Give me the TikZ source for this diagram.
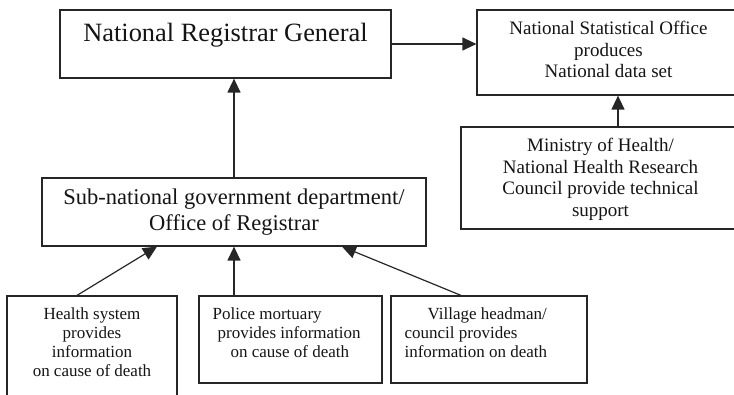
\documentclass[tikz,border=0pt]{standalone}
\usepackage{fontspec}
\setmainfont{Liberation Serif}
\usetikzlibrary{arrows.meta}
\begin{document}
\begin{tikzpicture}[x=1pt,y=-1pt,
  box/.style={draw=black!85, line width=1.2pt, inner sep=0pt, rectangle},
  txt/.style={inner sep=0pt, text=black!92},
  arr/.style={draw=black!85, line width=1.2pt, -{Triangle[length=14pt,width=13pt]}},
  fA/.style={font=\fontsize{26.4}{31}\selectfont},
  fB/.style={font=\fontsize{22.5}{26.5}\selectfont},
  fC/.style={font=\fontsize{19}{21.4}\selectfont},
  fD/.style={font=\fontsize{17}{19}\selectfont}
]
\useasboundingbox (0,0) rectangle (734,395);
\clip (0,0) rectangle (734,395);

% boxes
\node[box, minimum width=331pt, minimum height=68pt] (nrg) at (225.5,44) {};
\node[box, minimum width=263pt, minimum height=85pt] (nso) at (608.5,52.5) {};
\node[box, minimum width=279pt, minimum height=102pt] (min) at (600.5,178) {};
\node[box, minimum width=384pt, minimum height=68pt] (sub) at (234,212) {};
\node[box, minimum width=170pt, minimum height=114pt] (b1) at (92,353) {};
\node[box, minimum width=183pt, minimum height=87pt] (b2) at (290.5,339.5) {};
\node[box, minimum width=196pt, minimum height=87pt] (b3) at (489,339.5) {};

% texts
\node[txt, fA, anchor=north] (tnrg) at ([yshift=-14pt]nrg.north) {National Registrar General};
\node[txt, fB, align=center, anchor=north] (tsub) at ([yshift=-10.9pt]sub.north) {Sub-national government department/\\Office of Registrar};
\node[txt, fC, align=center, anchor=north] (tnso) at ([yshift=-11.7pt]nso.north) {National Statistical Office\\produces\\National data set};
\node[txt, fC, align=center, anchor=north] (tmin) at ([yshift=-12pt]min.north) {Ministry of Health/\\National Health Research\\Council provide technical\\support};
\node[txt, fD, align=center, anchor=north] (tb1) at ([yshift=-12.4pt]b1.north) {Health system\\provides\\information\\on cause of death};
\node[txt, fD, align=left, anchor=north west] (tb2) at ([xshift=14pt,yshift=-12.4pt]b2.north west) {Police mortuary\\\hspace*{5pt}provides information\\\hspace*{18pt}on cause of death};
\node[txt, fD, align=left, anchor=north west] (tb3) at ([xshift=14pt,yshift=-12.4pt]b3.north west) {\hspace*{23pt}Village headman/\\council provides\\information on death};

% connectors
\draw[arr] (sub.north) -- (sub.north |- nrg.south);
\draw[arr] (nrg.east) -- (nrg.east -| nso.west);
\draw[arr] ([xshift=17.5pt]min.north) -- ([xshift=17.5pt]min.north |- nso.south);
\draw[arr] ([xshift=-15pt]b1.north) -- ([xshift=-77pt]sub.south);
\draw[arr] (b2.north -| sub.south) -- (sub.south);
\draw[arr] ([xshift=-28pt]b3.north) -- ([xshift=108pt]sub.south);
\end{tikzpicture}
\end{document}
